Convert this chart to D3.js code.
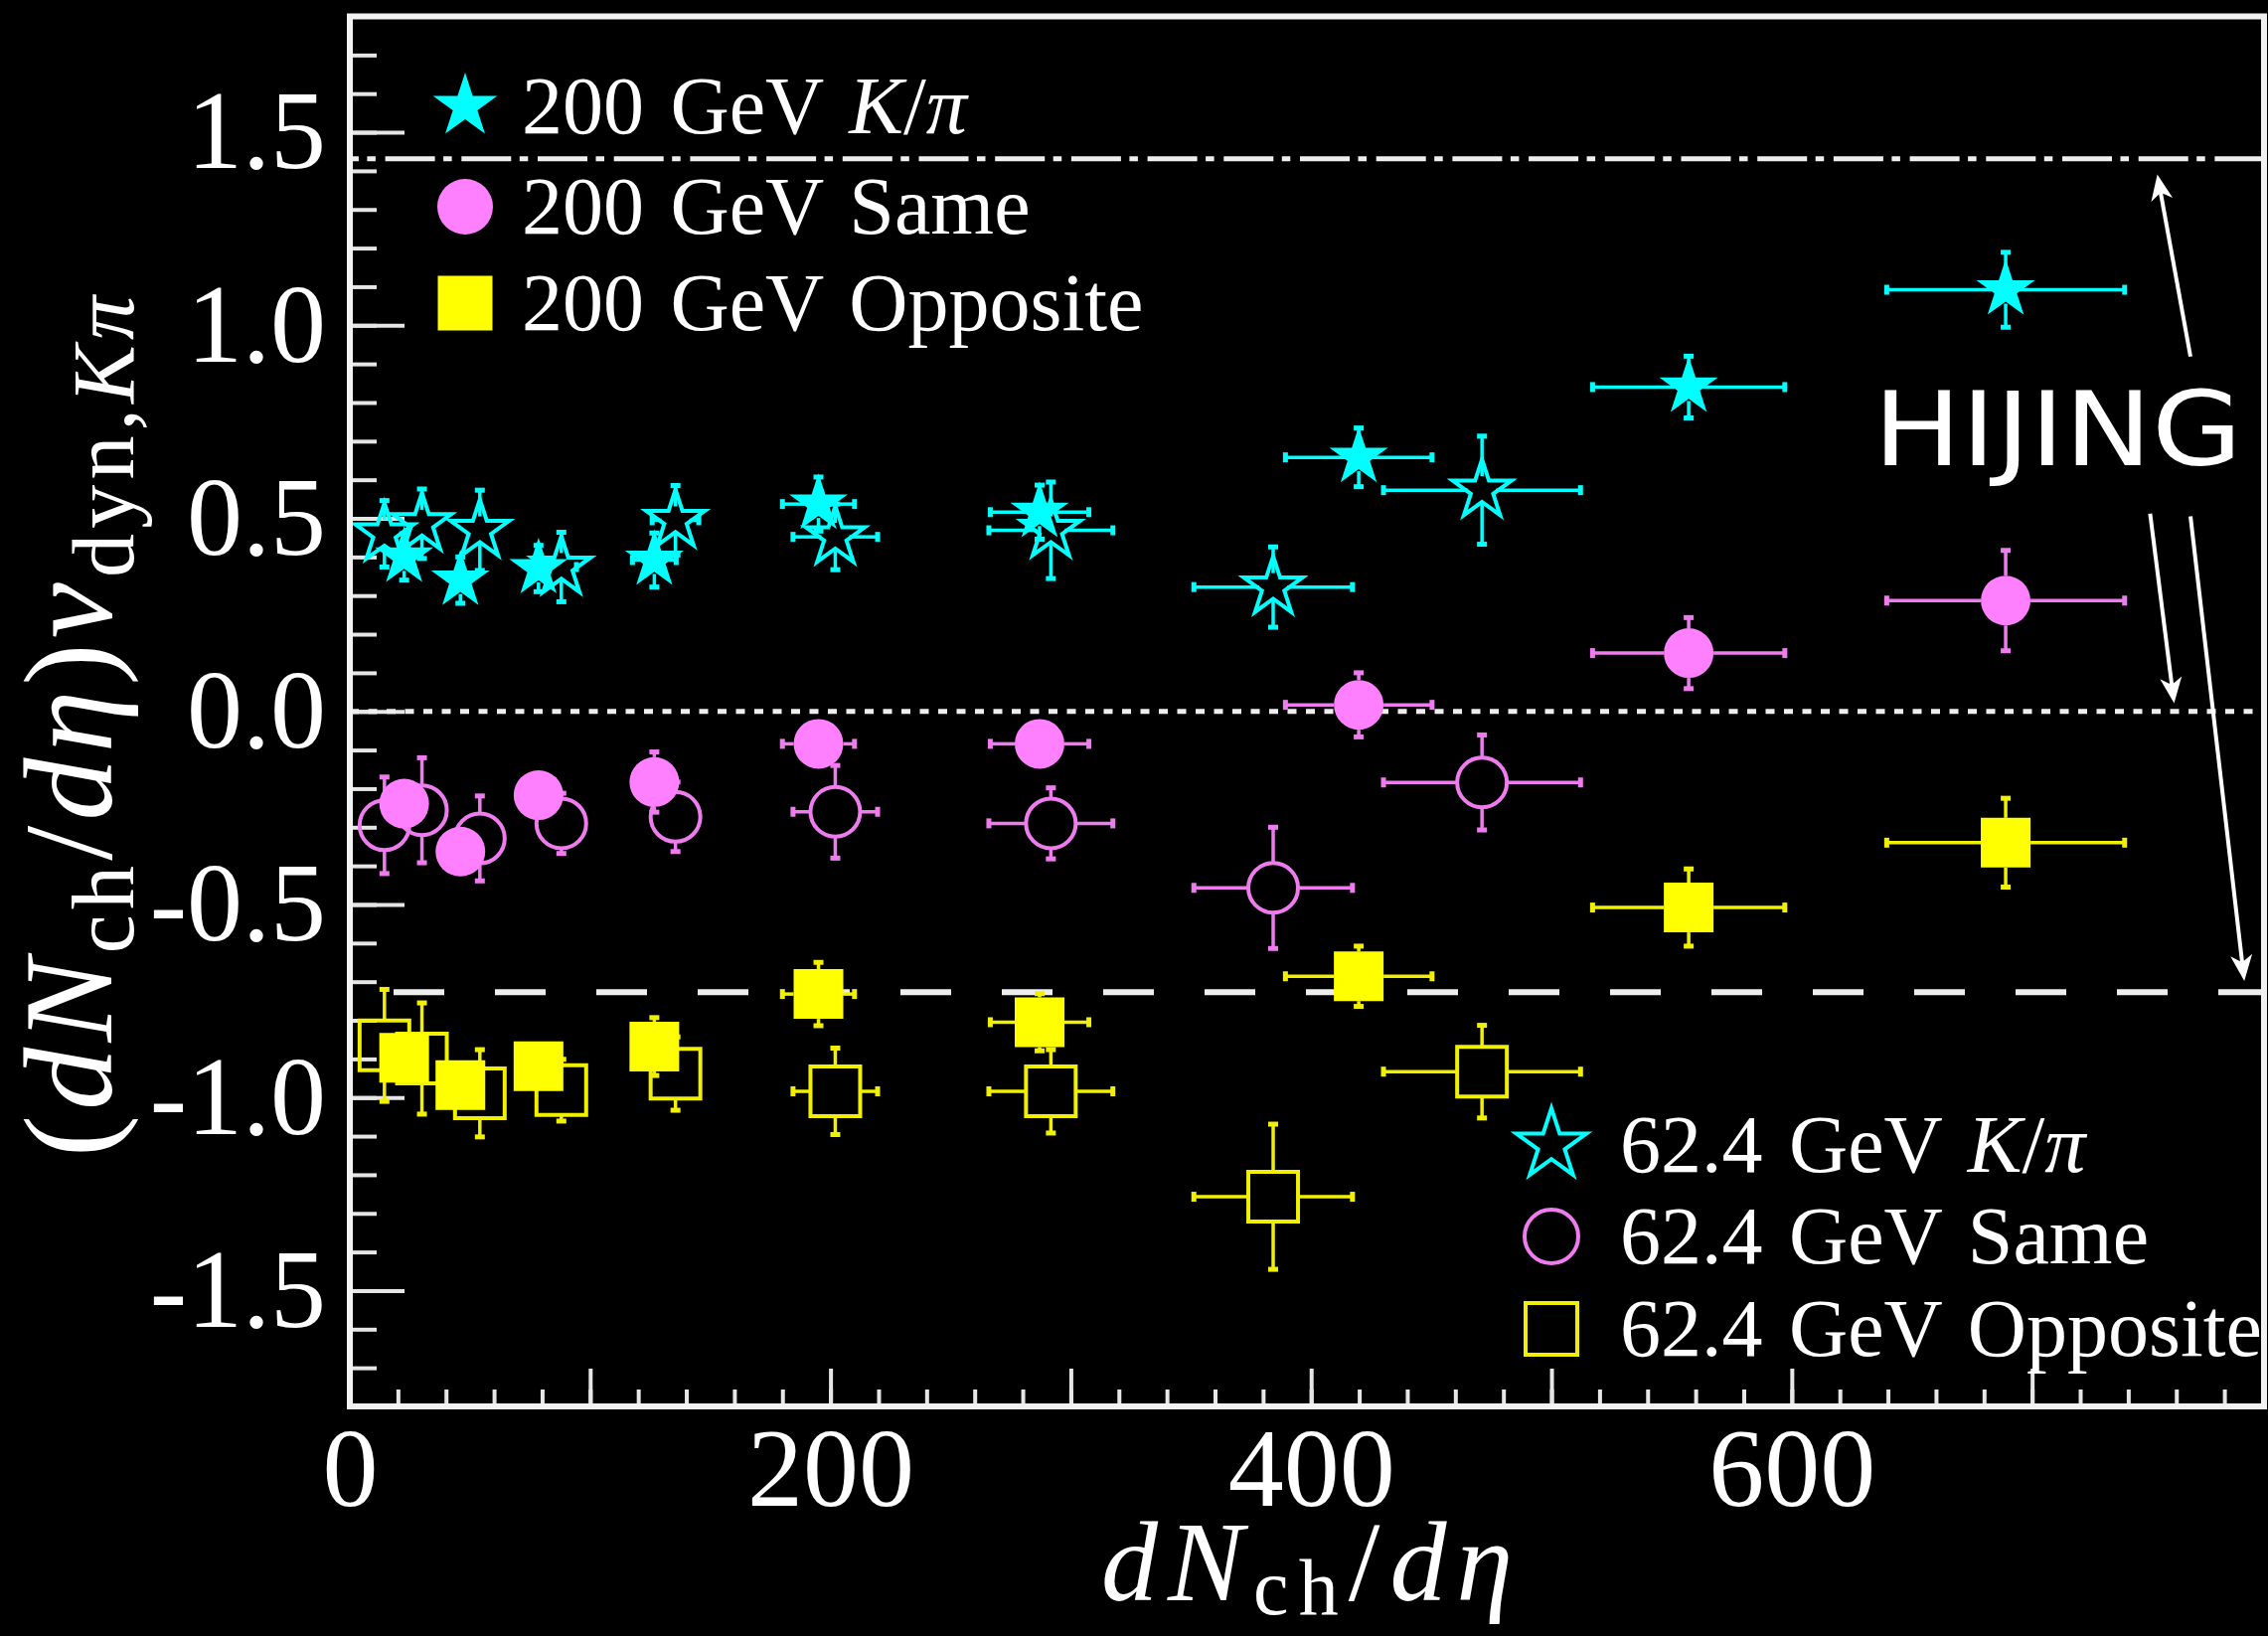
<!DOCTYPE html>
<html>
<head>
<meta charset="utf-8">
<script src="https://cdn.jsdelivr.net/npm/d3@7"></script>
<style>
  html, body { margin: 0; padding: 0; background: #000; }
  svg { display: block; }
</style>
</head>
<body>
<svg id="chart" width="2282" height="1646"></svg>
<script>
// ---------------- DATA ----------------
// 200 GeV (filled markers)
const x200  = [22.6, 46.0, 78.5, 126.7, 195.0, 287.0, 419.8, 557.1, 689.0];
const ex200 = [1.6, 3.3, 5.6, 9.1, 15.0, 20.5, 30.5, 40.0, 49.5];
const yKPi200  = [0.400, 0.340, 0.370, 0.392, 0.537, 0.516, 0.658, 0.840, 1.092];
const eyKPi200 = [0.06, 0.06, 0.06, 0.07, 0.07, 0.07, 0.076, 0.08, 0.097];
const ySame200  = [-0.239, -0.363, -0.217, -0.183, -0.084, -0.084, 0.017, 0.151, 0.287];
const eySame200 = [0.06, 0.06, 0.06, 0.078, 0.06, 0.06, 0.083, 0.092, 0.13];
const yOpp200  = [-0.897, -0.968, -0.919, -0.868, -0.732, -0.805, -0.686, -0.508, -0.340];
const eyOpp200 = [0.06, 0.06, 0.06, 0.075, 0.082, 0.074, 0.078, 0.10, 0.115];

// 62.4 GeV (open markers)
const x62  = [14.4, 30.0, 54.1, 88.0, 135.5, 202.0, 291.7, 384.2, 471.1];
const ex62 = [1.0, 2.2, 3.9, 6.3, 9.7, 17.6, 25.8, 33.0, 41.0];
const yKPi62  = [0.460, 0.486, 0.469, 0.374, 0.495, 0.452, 0.469, 0.322, 0.573];
const eyKPi62 = [0.086, 0.09, 0.104, 0.09, 0.09, 0.085, 0.125, 0.104, 0.14];
const ySame62  = [-0.295, -0.256, -0.329, -0.290, -0.273, -0.260, -0.290, -0.457, -0.184];
const eySame62 = [0.125, 0.136, 0.11, 0.078, 0.09, 0.12, 0.092, 0.157, 0.123];
const yOpp62  = [-0.865, -0.899, -0.989, -0.981, -0.938, -0.984, -0.984, -1.257, -0.933];
const eyOpp62 = [0.145, 0.144, 0.113, 0.08, 0.095, 0.112, 0.108, 0.188, 0.12];

// HIJING reference levels and annotation arrows (data units)
const hijingLevels = [1.431, 0.0, -0.727];
const hijingArrows = [
  {x1: 765.9, y1: 0.919, x2: 752.1, y2: 1.391},
  {x1: 749.1, y1: 0.512, x2: 759.1, y2: 0.021},
  {x1: 765.9, y1: 0.505, x2: 788.3, y2: -0.698}
];
const hijingLabel = {text: "HIJING", x: 634, y: 0.637};

// axis ticks
const yMajorTicks = [-1.5, -1.0, -0.5, 0.0, 0.5, 1.0, 1.5];
const yMinorTicks = d3.range(-17, 18).map(i => i / 10);
const xMajorTicks = [0, 100, 200, 300, 400, 500, 600, 700];
const xMinorTicks = d3.range(20, 796, 20);
const xTickLabels = [0, 200, 400, 600];

// ---------------- LAYOUT ----------------
const svg = d3.select("#chart");
svg.append("rect").attr("width", 2282).attr("height", 1646).attr("fill", "#000");

const x = d3.scaleLinear().domain([0, 796.5]).range([352, 2278]);
const y = d3.scaleLinear().domain([-1.8, 1.8]).range([1415, 16.5]);

const SERIF = "'Liberation Serif', 'Times New Roman', serif";
const CYAN = "#00ffff", MAG_F = "#ff80ff", MAG_L = "#ee7cee", YEL_F = "#ffff00", YEL_L = "#f0f000";
const TICK = "#e6e6e6";

// ---------------- AXES ----------------
function styleAxis(g) {
  g.select(".domain").remove();
  g.selectAll(".tick line").attr("stroke", TICK).attr("stroke-width", 4);
  g.selectAll(".tick text").attr("fill", "#fff").attr("font-family", SERIF).attr("font-size", 112);
}
svg.append("g").attr("transform", `translate(${x(0)},0)`)
  .call(d3.axisLeft(y).tickValues(yMinorTicks).tickSize(-27).tickFormat(""))
  .call(styleAxis);
svg.append("g").attr("transform", `translate(${x(0)},0)`)
  .call(d3.axisLeft(y).tickValues(yMajorTicks).tickSize(-55).tickPadding(24)
        .tickFormat(d => d.toFixed(1)))
  .call(styleAxis);
svg.append("g").attr("transform", `translate(0,${y(-1.8)})`)
  .call(d3.axisBottom(x).tickValues(xMinorTicks).tickSize(-17).tickFormat(""))
  .call(styleAxis);
svg.append("g").attr("transform", `translate(0,${y(-1.8)})`)
  .call(d3.axisBottom(x).tickValues(xMajorTicks).tickSize(-38).tickPadding(20)
        .tickFormat(d => xTickLabels.includes(d) ? String(d) : ""))
  .call(styleAxis);

// ---------------- HIJING LINES ----------------
const lineStyles = [
  {dash: "50,8.5,8.5,9.7", offset: 41.1, w: 5},
  {dash: "9,9.5", offset: 0, w: 5},
  {dash: "51,51", offset: 58, w: 6}
];
svg.append("g").selectAll("line").data(hijingLevels).join("line")
  .attr("x1", x(0)).attr("x2", x(796.5))
  .attr("y1", d => y(d)).attr("y2", d => y(d))
  .attr("stroke", "#eeeeee")
  .attr("stroke-width", (d, i) => lineStyles[i].w)
  .attr("stroke-dasharray", (d, i) => lineStyles[i].dash)
  .attr("stroke-dashoffset", (d, i) => lineStyles[i].offset);

// ---------------- SERIES ----------------
function makePoints(xs, exs, ys, eys) {
  return xs.map((xv, i) => ({x: xv, ex: exs[i], y: ys[i], ey: eys[i]}));
}
function drawSeries(pts, o) {
  const g = svg.append("g");
  const segs = [], caps = [];
  pts.forEach(p => {
    const cx = x(p.x), cy = y(p.y);
    const xl = x(p.x - p.ex), xr = x(p.x + p.ex);
    const yt = y(p.y + p.ey), yb = y(p.y - p.ey);
    const gap = o.gap;
    if (cx - xl > gap) { segs.push([xl, cy, cx - gap, cy]); caps.push([xl, cy - 5, xl, cy + 5]); }
    if (xr - cx > gap) { segs.push([cx + gap, cy, xr, cy]); caps.push([xr, cy - 5, xr, cy + 5]); }
    if (cy - yt > gap) { segs.push([cx, yt, cx, cy - gap]); caps.push([cx - 5, yt, cx + 5, yt]); }
    if (yb - cy > gap) { segs.push([cx, cy + gap, cx, yb]); caps.push([cx - 5, yb, cx + 5, yb]); }
  });
  g.selectAll("line.e").data(segs).join("line").attr("class", "e")
    .attr("x1", d => d[0]).attr("y1", d => d[1]).attr("x2", d => d[2]).attr("y2", d => d[3])
    .attr("stroke", o.line).attr("stroke-width", 3.5);
  g.selectAll("line.c").data(caps).join("line").attr("class", "c")
    .attr("x1", d => d[0]).attr("y1", d => d[1]).attr("x2", d => d[2]).attr("y2", d => d[3])
    .attr("stroke", o.line).attr("stroke-width", 5);
  g.selectAll("path.m").data(pts).join("path").attr("class", "m")
    .attr("transform", d => `translate(${x(d.x)},${y(d.y)})`)
    .attr("d", d3.symbol(o.type, o.size))
    .attr("fill", o.filled ? o.fill : "none")
    .attr("stroke", o.filled ? "none" : o.line)
    .attr("stroke-width", o.filled ? 0 : 4);
}
const STAR = 31 * 31 / 0.8908130915292852;
const CIRC = Math.PI * 25 * 25;
const SQR = 50 * 50;

// 62.4 GeV open markers first
drawSeries(makePoints(x62, ex62, yKPi62, eyKPi62), {type: d3.symbolStar, size: STAR, filled: false, line: CYAN, gap: 14});
drawSeries(makePoints(x62, ex62, ySame62, eySame62), {type: d3.symbolCircle, size: CIRC, filled: false, line: MAG_L, gap: 25});
drawSeries(makePoints(x62, ex62, yOpp62, eyOpp62), {type: d3.symbolSquare, size: SQR, filled: false, line: YEL_L, gap: 25});
// 200 GeV filled markers
drawSeries(makePoints(x200, ex200, yKPi200, eyKPi200), {type: d3.symbolStar, size: STAR, filled: true, fill: CYAN, line: CYAN, gap: 14});
drawSeries(makePoints(x200, ex200, ySame200, eySame200), {type: d3.symbolCircle, size: CIRC, filled: true, fill: MAG_F, line: MAG_L, gap: 25});
drawSeries(makePoints(x200, ex200, yOpp200, eyOpp200), {type: d3.symbolSquare, size: SQR, filled: true, fill: YEL_F, line: YEL_L, gap: 25});

// ---------------- FRAME ----------------
svg.append("rect")
  .attr("x", x(0)).attr("y", y(1.8))
  .attr("width", x(796.5) - x(0)).attr("height", y(-1.8) - y(1.8))
  .attr("fill", "none").attr("stroke", "#f2f2f2").attr("stroke-width", 6);

// ---------------- HIJING ANNOTATION ----------------
svg.append("text")
  .attr("x", x(hijingLabel.x)).attr("y", y(hijingLabel.y))
  .attr("font-family", "'Comic Sans MS', 'DejaVu Sans', sans-serif")
  .attr("font-size", 104).attr("fill", "#fff")
  .attr("textLength", 371).attr("lengthAdjust", "spacingAndGlyphs")
  .text(hijingLabel.text);

const ag = svg.append("g");
hijingArrows.forEach(a => {
  const X1 = x(a.x1), Y1 = y(a.y1), X2 = x(a.x2), Y2 = y(a.y2);
  const dx = X2 - X1, dy = Y2 - Y1, L = Math.hypot(dx, dy), ux = dx / L, uy = dy / L;
  const hl = 26, hw = 11;
  const bx = X2 - ux * hl, by = Y2 - uy * hl;
  const nx = X2 - ux * hl * 0.72, ny = Y2 - uy * hl * 0.72;
  ag.append("line").attr("x1", X1).attr("y1", Y1).attr("x2", nx).attr("y2", ny)
    .attr("stroke", "#fff").attr("stroke-width", 4);
  ag.append("path")
    .attr("d", `M${X2},${Y2}L${bx - uy * hw},${by + ux * hw}L${nx},${ny}L${bx + uy * hw},${by - ux * hw}Z`)
    .attr("fill", "#fff");
});

// ---------------- LEGENDS ----------------
const legendTop = [
  {sym: d3.symbolStar, size: 34 * 34 / 0.8908130915292852, fill: CYAN, filled: true, parts: [["200 GeV ", false], ["K", true], ["/", false], ["π", true]]},
  {sym: d3.symbolCircle, size: Math.PI * 28 * 28, fill: MAG_F, filled: true, parts: [["200 GeV Same", false]]},
  {sym: d3.symbolSquare, size: 55 * 55, fill: YEL_F, filled: true, parts: [["200 GeV Opposite", false]]}
];
const legendBot = [
  {sym: d3.symbolStar, size: 37 * 37 / 0.8908130915292852, fill: CYAN, filled: false, parts: [["62.4 GeV ", false], ["K", true], ["/", false], ["π", true]]},
  {sym: d3.symbolCircle, size: Math.PI * 27 * 27, fill: MAG_L, filled: false, parts: [["62.4 GeV Same", false]]},
  {sym: d3.symbolSquare, size: 52 * 52, fill: YEL_L, filled: false, parts: [["62.4 GeV Opposite", false]]}
];
function drawLegend(items, mx, tx, rows) {
  const g = svg.append("g");
  items.forEach((it, i) => {
    g.append("path").attr("transform", `translate(${mx},${rows[i]})`)
      .attr("d", d3.symbol(it.sym, it.size))
      .attr("fill", it.filled ? it.fill : "none")
      .attr("stroke", it.filled ? "none" : it.fill)
      .attr("stroke-width", it.filled ? 0 : 4);
    const t = g.append("text").attr("x", tx).attr("y", rows[i] + 27)
      .attr("font-family", SERIF).attr("font-size", 82).attr("fill", "#fff")
      .attr("word-spacing", 6);
    it.parts.forEach(p => t.append("tspan").attr("font-style", p[1] ? "italic" : "normal").text(p[0]));
  });
}
drawLegend(legendTop, 468, 525, [107, 208, 305]);
drawLegend(legendBot, 1561, 1630, [1152, 1244, 1337]);

// ---------------- AXIS TITLES ----------------
const xt = svg.append("text").attr("x", (x(0) + x(796.5)) / 2).attr("y", 1610)
  .attr("text-anchor", "middle").attr("font-family", SERIF).attr("font-size", 114).attr("fill", "#fff")
  .attr("textLength", 414).attr("lengthAdjust", "spacing");
xt.append("tspan").attr("font-style", "italic").text("dN");
xt.append("tspan").attr("font-size", 80).attr("dy", 14).text("ch");
xt.append("tspan").attr("dy", -14).text("/");
xt.append("tspan").attr("font-style", "italic").text("dη");

const yt = svg.append("text").attr("transform", "translate(112,731) rotate(-90)")
  .attr("text-anchor", "middle").attr("font-family", SERIF).attr("font-size", 126).attr("fill", "#fff")
  .attr("textLength", 866).attr("lengthAdjust", "spacing");
yt.append("tspan").text("(");
yt.append("tspan").attr("font-style", "italic").text("dN");
yt.append("tspan").attr("font-size", 88).attr("dy", 22).text("ch");
yt.append("tspan").attr("dy", -22).text("/");
yt.append("tspan").attr("font-style", "italic").text("dη");
yt.append("tspan").text(")");
yt.append("tspan").attr("font-style", "italic").text("ν");
yt.append("tspan").attr("font-size", 88).attr("dy", 22).text("dyn,");
yt.append("tspan").attr("font-size", 88).attr("font-style", "italic").text("Kπ");
</script>
</body>
</html>
